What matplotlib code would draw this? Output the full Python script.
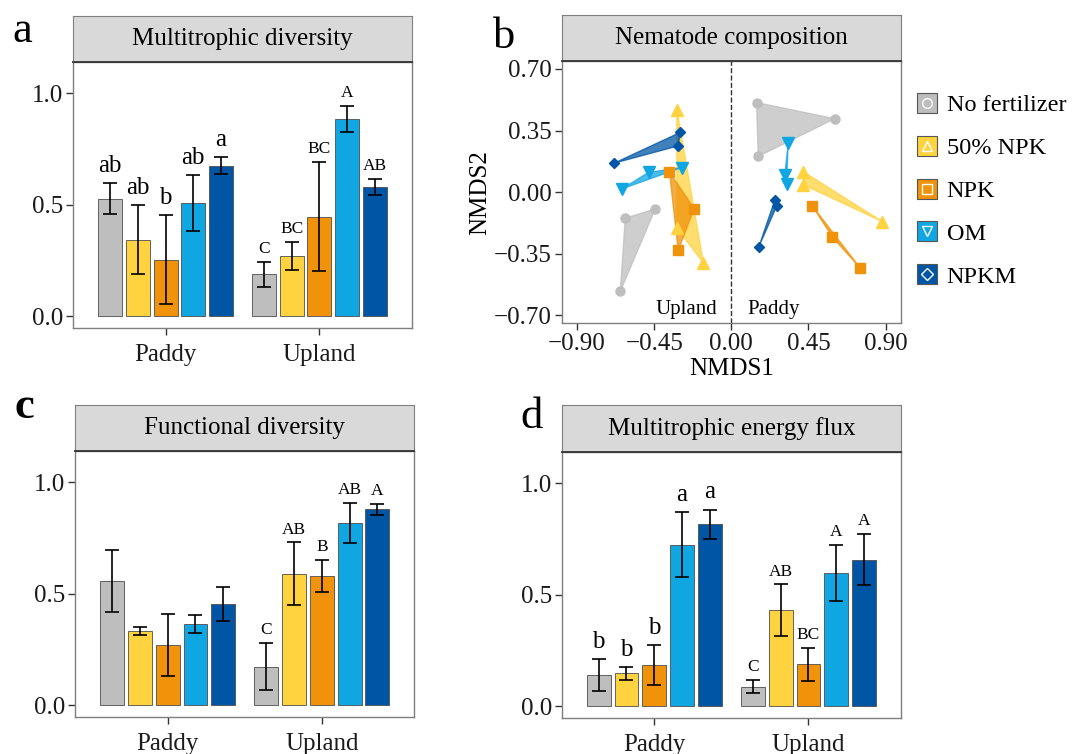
import numpy as np
import matplotlib
matplotlib.use('Agg')
import matplotlib.pyplot as plt
from matplotlib.lines import Line2D
from matplotlib.ticker import FuncFormatter

plt.rcParams['font.family'] = ['Liberation Serif', 'DejaVu Serif']
plt.rcParams['axes.unicode_minus'] = True

W, H = 1072, 754

sites      = ['Paddy', 'Upland']
treatments = ['No fertilizer', '50% NPK', 'NPK', 'OM', 'NPKM']
colors     = ['#BEBEBE', '#FFD23F', '#F0920A', '#10A6E2', '#0055A4']
markers    = ['o', '^', 's', 'v', 'D']
msizes     = [6.5, 8, 6.5, 8, 5]

# a - multitrophic diversity
multi_div_paddy     = [0.527, 0.344, 0.254, 0.509, 0.675]
multi_div_paddy_se  = [0.070, 0.155, 0.200, 0.125, 0.039]
multi_div_upland    = [0.188, 0.272, 0.447, 0.884, 0.580]
multi_div_upland_se = [0.056, 0.063, 0.245, 0.057, 0.035]
multi_div_paddy_lab  = ['ab', 'ab', 'b', 'ab', 'a']
multi_div_upland_lab = ['C', 'BC', 'BC', 'A', 'AB']

# c - functional diversity
func_div_paddy     = [0.557, 0.333, 0.270, 0.365, 0.454]
func_div_paddy_se  = [0.139, 0.019, 0.140, 0.040, 0.076]
func_div_upland    = [0.173, 0.590, 0.580, 0.819, 0.878]
func_div_upland_se = [0.105, 0.140, 0.070, 0.090, 0.023]
func_div_paddy_lab  = []
func_div_upland_lab = ['C', 'AB', 'B', 'AB', 'A']

# d - multitrophic energy flux
flux_paddy     = [0.139, 0.148, 0.184, 0.725, 0.815]
flux_paddy_se  = [0.072, 0.029, 0.090, 0.147, 0.067]
flux_upland    = [0.088, 0.431, 0.188, 0.597, 0.658]
flux_upland_se = [0.029, 0.115, 0.075, 0.126, 0.115]
flux_paddy_lab  = ['b', 'b', 'b', 'a', 'a']
flux_upland_lab = ['C', 'AB', 'BC', 'A', 'A']

# b - NMDS of nematode composition (3 replicates per treatment)
upland_nmds1 = [[-0.619, -0.444, -0.648], [-0.318, -0.163, -0.318], [-0.361, -0.217, -0.310],
                [-0.638, -0.483, -0.289], [-0.683, -0.299, -0.309]]
upland_nmds2 = [[-0.148, -0.095, -0.564], [0.468, -0.403, -0.205], [0.114, -0.093, -0.331],
                [0.019, 0.112, 0.140], [0.165, 0.339, 0.263]]
paddy_nmds1  = [[0.147, 0.603, 0.157], [0.419, 0.881, 0.419], [0.471, 0.590, 0.753],
                [0.332, 0.312, 0.322], [0.254, 0.264, 0.161]]
paddy_nmds2  = [[0.509, 0.417, 0.203], [0.117, -0.167, 0.042], [-0.076, -0.256, -0.432],
                [0.282, 0.095, 0.047], [-0.044, -0.081, -0.309]]


def rect(l, t, r, b):
    return [l / W, 1 - b / H, (r - l) / W, (b - t) / H]


def style_frame(ax):
    for s in ax.spines.values():
        s.set_color('#7F7F7F')
        s.set_linewidth(1.0)
    ax.tick_params(colors='#333333', labelcolor='#1A1A1A', length=5, width=1.0,
                   labelsize=18, pad=2)


def strip(l, t, r, b, title):
    sax = fig.add_axes(rect(l, t, r, b))
    sax.set_facecolor('#D9D9D9')
    sax.set_xticks([])
    sax.set_yticks([])
    for s in sax.spines.values():
        s.set_color('#7F7F7F')
    sax.spines['bottom'].set_color('#333333')
    sax.spines['bottom'].set_linewidth(1.3)
    sax.text(0.5, 0.5, title, ha='center', va='center', fontsize=18, transform=sax.transAxes)


def bar_panel(ax, paddy, paddy_se, upland, upland_se, paddy_lab, upland_lab):
    offsets = (np.arange(5) - 2) * 0.18
    for gx, means, se, labs in [(1, paddy, paddy_se, paddy_lab), (2, upland, upland_se, upland_lab)]:
        xs = gx + offsets
        ax.bar(xs, means, width=0.155, color=colors, edgecolor='#4D4D4D', linewidth=0.6, zorder=2)
        ax.errorbar(xs, means, yerr=se, fmt='none', ecolor='black', elinewidth=1.2,
                    capsize=4.7, capthick=1.2, zorder=3)
        for x, m, s, lab in zip(xs, means, se, labs):
            big = lab.islower()
            ax.text(x, m + s + (0.05 if big else 0.04), lab, ha='center', va='baseline',
                    fontsize=18 if big else 12.5)
    ax.set_xlim(0.4, 2.6)
    ax.set_ylim(-0.054, 1.14)
    ax.set_xticks([1, 2], sites)
    ax.set_yticks([0, 0.5, 1.0])
    style_frame(ax)
    ax.tick_params(axis='x', pad=6)


fig = plt.figure(figsize=(W / 100, H / 100), dpi=100)

# a
ax_a = fig.add_axes(rect(73.3, 62, 411.7, 328.3))
bar_panel(ax_a, multi_div_paddy, multi_div_paddy_se, multi_div_upland, multi_div_upland_se,
          multi_div_paddy_lab, multi_div_upland_lab)
strip(73.3, 16, 411.7, 62, 'Multitrophic diversity')

# c
ax_c = fig.add_axes(rect(75.3, 451, 414.3, 717.3))
bar_panel(ax_c, func_div_paddy, func_div_paddy_se, func_div_upland, func_div_upland_se,
          func_div_paddy_lab, func_div_upland_lab)
strip(75.3, 405, 414.3, 451, 'Functional diversity')

# d
ax_d = fig.add_axes(rect(561.7, 452, 901, 718.3))
bar_panel(ax_d, flux_paddy, flux_paddy_se, flux_upland, flux_upland_se,
          flux_paddy_lab, flux_upland_lab)
strip(561.7, 405, 901, 452, 'Multitrophic energy flux')

# b
ax_b = fig.add_axes(rect(561.7, 61, 901, 323.3))
for i in range(5):
    for xs, ys in [(upland_nmds1[i], upland_nmds2[i]), (paddy_nmds1[i], paddy_nmds2[i])]:
        ax_b.fill(xs, ys, color=colors[i], alpha=0.75, lw=1.0, zorder=2)
        ax_b.plot(xs, ys, ls='none', marker=markers[i], ms=msizes[i], color=colors[i], zorder=3)
ax_b.axvline(0, color='#333333', ls='--', lw=1.0, zorder=1)
ax_b.text(-0.085, -0.665, 'Upland', ha='right', va='center', fontsize=15)
ax_b.text(0.095, -0.665, 'Paddy', ha='left', va='center', fontsize=15)
ax_b.set_xlim(-0.99, 0.99)
ax_b.set_ylim(-0.745, 0.745)
ax_b.set_xticks([-0.9, -0.45, 0, 0.45, 0.9])
ax_b.set_yticks([-0.7, -0.35, 0, 0.35, 0.7])
fmt = FuncFormatter(lambda v, p: ('%.2f' % v).replace('-0.00', '0.00').replace('-', '\u2212'))
ax_b.xaxis.set_major_formatter(fmt)
ax_b.yaxis.set_major_formatter(fmt)
style_frame(ax_b)
ax_b.set_xlabel('NMDS1', fontsize=18, labelpad=2)
ax_b.set_ylabel('NMDS2', fontsize=18, labelpad=2)
strip(561.7, 14.7, 901, 61, 'Nematode composition')

handles = []
for c, m in zip(colors, markers):
    box = Line2D([], [], ls='none', marker='s', ms=15, mfc=c, mec='#555555', mew=0.8)
    sym = Line2D([], [], ls='none', marker=m, ms=7 if m != 'D' else 6, mfc='none', mec='white', mew=1.0)
    handles.append((box, sym))
fig.legend(handles, treatments, loc='center left', bbox_to_anchor=(915 / W, 1 - 191 / H),
           frameon=False, fontsize=17.5, handlelength=1.0, handletextpad=0.3, labelspacing=0.86,
           borderpad=0, borderaxespad=0)

# panel letters
fig.text(12 / W, 1 - 42 / H, 'a', fontsize=32, va='baseline')
fig.text(493 / W, 1 - 48 / H, 'b', fontsize=32, va='baseline')
fig.text(14 / W, 1 - 418 / H, 'c', fontsize=32, va='baseline', fontweight='bold')
fig.text(520 / W, 1 - 428 / H, 'd', fontsize=32, va='baseline')

fig.savefig('out.png', dpi=100)
